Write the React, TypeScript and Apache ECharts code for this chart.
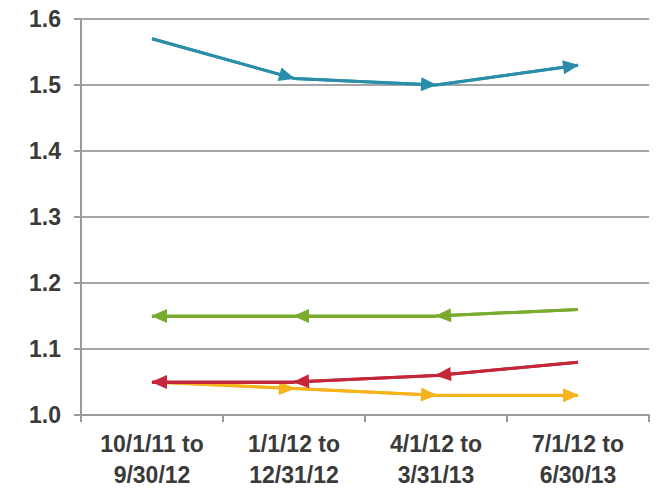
import React, { useEffect, useRef } from "react";
import * as echarts from "echarts";

const categories = ["10/1/11 to\n9/30/12", "1/1/12 to\n12/31/12", "4/1/12 to\n3/31/13", "7/1/12 to\n6/30/13"];
const blueValues = [1.57, 1.51, 1.5, 1.53];
const greenValues = [1.15, 1.15, 1.15, 1.16];
const redValues = [1.05, 1.05, 1.06, 1.08];
const yellowValues = [1.05, 1.04, 1.03, 1.03];
const yTicks = { min: 1.0, max: 1.6, interval: 0.1 };

type Dir = "right" | "left";

function makeSeries(name: string, values: number[], color: string, dir: Dir) {
  const segs: any[] = [];
  for (let i = 0; i < values.length - 1; i++) {
    const a = { coord: [categories[i], values[i]] };
    const b = { coord: [categories[i + 1], values[i + 1]] };
    segs.push(dir === "right" ? [a, b] : [b, a]);
  }
  return {
    name,
    type: "line",
    data: values,
    showSymbol: false,
    symbol: "none",
    lineStyle: { color, width: 3 },
    itemStyle: { color },
    markLine: {
      silent: true,
      symbol: ["none", "triangle"],
      symbolSize: [14, 16],
      symbolOffset: [0, [0, 7]],
      label: { show: false },
      lineStyle: { color, width: 3, type: "solid" },
      emphasis: { disabled: true },
      data: segs,
    },
  };
}

export default function App() {
  const ref = useRef<HTMLDivElement>(null);
  useEffect(() => {
    if (!ref.current) return;
    const chart = echarts.init(ref.current, null, { renderer: "svg" });
    chart.setOption({
      animation: false,
      backgroundColor: "#ffffff",
      grid: { left: 81, right: 10, top: 19, bottom: 75, containLabel: false },
      xAxis: {
        type: "category",
        data: categories,
        boundaryGap: true,
        axisLine: { lineStyle: { color: "#9a9a9a", width: 2 } },
        axisTick: { show: true, length: 7, lineStyle: { color: "#9a9a9a", width: 2 } },
        axisLabel: {
          color: "#3a3a3a",
          fontFamily: "Liberation Sans, Arial, sans-serif",
          fontWeight: "bold",
          fontSize: 23,
          lineHeight: 31,
          margin: 13,
        },
        splitLine: { show: false },
      },
      yAxis: {
        type: "value",
        min: yTicks.min,
        max: yTicks.max,
        interval: yTicks.interval,
        axisLine: { show: true, lineStyle: { color: "#9a9a9a", width: 2 } },
        axisTick: { show: true, length: 7, lineStyle: { color: "#9a9a9a", width: 2 } },
        axisLabel: {
          color: "#3a3a3a",
          fontFamily: "Liberation Sans, Arial, sans-serif",
          fontWeight: "bold",
          fontSize: 23,
          margin: 20,
          formatter: (v: number) => v.toFixed(1),
        },
        splitLine: { show: true, lineStyle: { color: "#a6a6a6", width: 2 } },
      },
      series: [
        makeSeries("Blue", blueValues, "#2b8ea8", "right"),
        makeSeries("Green", greenValues, "#79ab2f", "left"),
        makeSeries("Yellow", yellowValues, "#f5b31c", "right"),
        makeSeries("Red", redValues, "#c4263a", "left"),
      ],
    });
    return () => chart.dispose();
  }, []);
  return <div ref={ref} style={{ width: 659, height: 490, position: "absolute", left: 0, top: 0 }} />;
}
